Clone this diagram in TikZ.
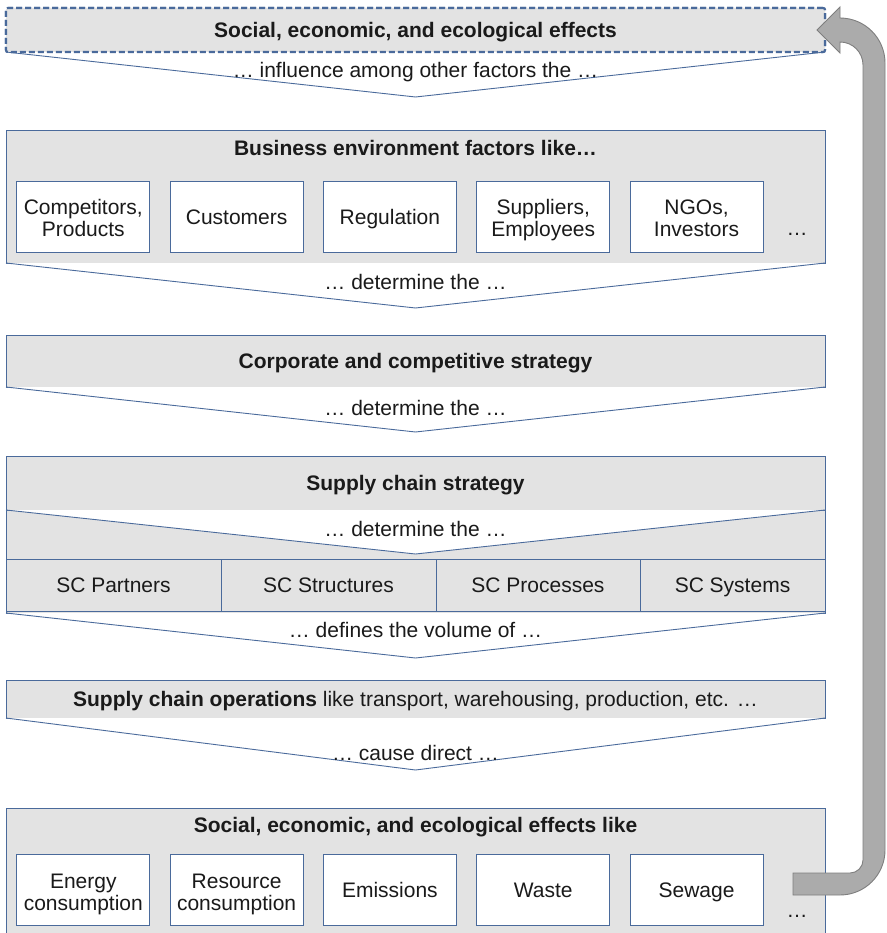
\documentclass[tikz,border=0pt]{standalone}
\usepackage{fontspec}
\setmainfont{Liberation Sans}
\definecolor{edge}{HTML}{4A6A9B}
\definecolor{panelfill}{HTML}{E3E3E3}
\definecolor{arrowfill}{HTML}{ABABAB}
\definecolor{arrowedge}{HTML}{7E7E7E}
\definecolor{ink}{HTML}{1A1A1A}
\newcommand\mystrut{\rule[-5.5pt]{0pt}{26.5pt}}
\newcommand\lowstrut{\rule{0pt}{24pt}}
\begin{document}
\begin{tikzpicture}[x=1pt,y=1pt,
  every node/.style={font=\fontsize{21}{22}\selectfont, text=ink},
  panel/.style={draw=edge, fill=panelfill, line width=0.9pt, inner sep=0pt, outer sep=0pt, minimum width=819pt, anchor=north west,
    execute at begin node=\mystrut, execute at end node=\mystrut},
  dashpanel/.style={panel, dash pattern=on 6pt off 3pt, line width=2.1pt, rounded corners=2pt},
  item/.style={draw=edge, fill=white, line width=0.9pt, minimum width=133pt, minimum height=71pt, align=center, inner sep=0pt,
    execute at begin node=\mystrut, execute at end node=\mystrut},
  cell/.style={draw=edge, fill=panelfill, line width=0.9pt, minimum height=52pt, inner sep=0pt, outer sep=0pt, anchor=north west,
    execute at begin node=\mystrut, execute at end node=\mystrut},
  chev/.style={draw=edge, fill=white, line width=0.9pt, line join=miter},
  title/.style={font=\fontsize{21}{22}\selectfont\bfseries, inner sep=0pt,
    execute at begin node=\mystrut, execute at end node=\mystrut},
  lbl/.style={inner sep=0pt, execute at begin node=\mystrut, execute at end node=\mystrut},
]
\useasboundingbox (0,0) rectangle (886,-933);

% --- top: effects
\node[dashpanel, minimum height=44pt] (effects) at (6,-8) {};
\coordinate (effects-tip) at (415.5,-97);
\draw[chev] (effects.south west) -- (effects-tip) -- (effects.south east);
\node[dashpanel, minimum height=44pt, font=\fontsize{21}{22}\selectfont\bfseries] (effects2) at (6,-8) {Social, economic, and ecological effects};
\node[lbl] (influence) at (415.5,-70) {… influence among other factors the …};

% --- business environment
\node[panel, minimum height=133pt] (biz) at (6,-130) {};
\node[title] (biz-title) at (415.5,-148) {Business environment factors like…};
\node[item] (comp) at (83.3,-216.5) {\lowstrut Competitors,\\Products};
\node[item] (cust) at (236.6,-216.5) {Customers};
\node[item] (regu) at (389.9,-216.5) {Regulation};
\node[item] (supp) at (543.2,-216.5) {\lowstrut Suppliers,\\Employees};
\node[item] (ngos) at (696.5,-216.5) {\lowstrut NGOs,\\Investors};
\node[inner sep=0pt, anchor=base] (biz-more) at (797,-235) {…};
\coordinate (biz-tip) at (415.5,-308);
\draw[chev] (biz.south west) -- (biz-tip) -- (biz.south east);
\node[lbl] (det1) at (415.5,-282) {… determine the …};

% --- corporate
\node[panel, minimum height=52pt, font=\fontsize{21}{22}\selectfont\bfseries] (corp) at (6,-335) {Corporate and competitive strategy};
\coordinate (corp-tip) at (415.5,-432);
\draw[chev] (corp.south west) -- (corp-tip) -- (corp.south east);
\node[lbl] (det2) at (415.5,-408) {… determine the …};

% --- supply chain strategy
\node[panel, minimum height=157pt] (scs) at (6,-456) {};
\node[panel, minimum height=54pt, font=\fontsize{21}{22}\selectfont\bfseries] (scs-head) at (6,-456) {Supply chain strategy};
\coordinate (scs-tip) at (415.5,-554);
\draw[chev] (scs-head.south west) -- (scs-tip) -- (scs-head.south east);
\node[lbl] (det3) at (415.5,-529) {… determine the …};
\node[cell, minimum width=215pt] (partners) at (6,-559) {SC Partners};
\node[cell, minimum width=215pt] (structures) at (221,-559) {SC Structures};
\node[cell, minimum width=204pt] (processes) at (436,-559) {SC Processes};
\node[cell, minimum width=185pt] (systems) at (640,-559) {SC Systems};
\coordinate (scs-tip2) at (415.5,-658);
\draw[chev] (scs.south west) -- (scs-tip2) -- (scs.south east);
\node[lbl] (defines) at (415.5,-630) {… defines the volume of …};

% --- operations
\node[panel, minimum height=38pt] (ops) at (6,-680) {\textbf{Supply chain operations} like transport, warehousing, production, etc. …};
\coordinate (ops-tip) at (415.5,-770);
\draw[chev] (ops.south west) -- (ops-tip) -- (ops.south east);
\node[lbl] (cause) at (415.5,-753) {… cause direct …};

% --- effects like
\node[panel, minimum height=135pt] (sce) at (6,-808) {};
\node[title] (sce-title) at (415.5,-825) {Social, economic, and ecological effects like};
\node[item] (energy) at (83.3,-890) {\lowstrut Energy\\consumption};
\node[item] (resource) at (236.6,-890) {\lowstrut Resource\\consumption};
\node[item] (emissions) at (389.9,-890) {Emissions};
\node[item] (waste) at (543.2,-890) {Waste};
\node[item] (sewage) at (696.5,-890) {Sewage};
\node[inner sep=0pt, anchor=base] (sce-more) at (797,-917) {…};

% --- feedback arrow
\coordinate (loop-start) at (793,-884);
\coordinate (loop-end) at (817,-30);
\draw[draw=arrowedge, fill=arrowfill, line width=0.9pt, line join=miter]
  (loop-start |- 0,-895) -- (840,-895) arc[start angle=270, end angle=360, radius=45]
  -- (885,-63) arc[start angle=0, end angle=90, radius=45]
  -- (840,-7) -- (loop-end) -- (840,-53) -- (840,-42)
  arc[start angle=90, end angle=0, radius=23]
  -- (863,-860) arc[start angle=0, end angle=-90, radius=13]
  -- (loop-start |- 0,-873) -- cycle;
\end{tikzpicture}
\end{document}
